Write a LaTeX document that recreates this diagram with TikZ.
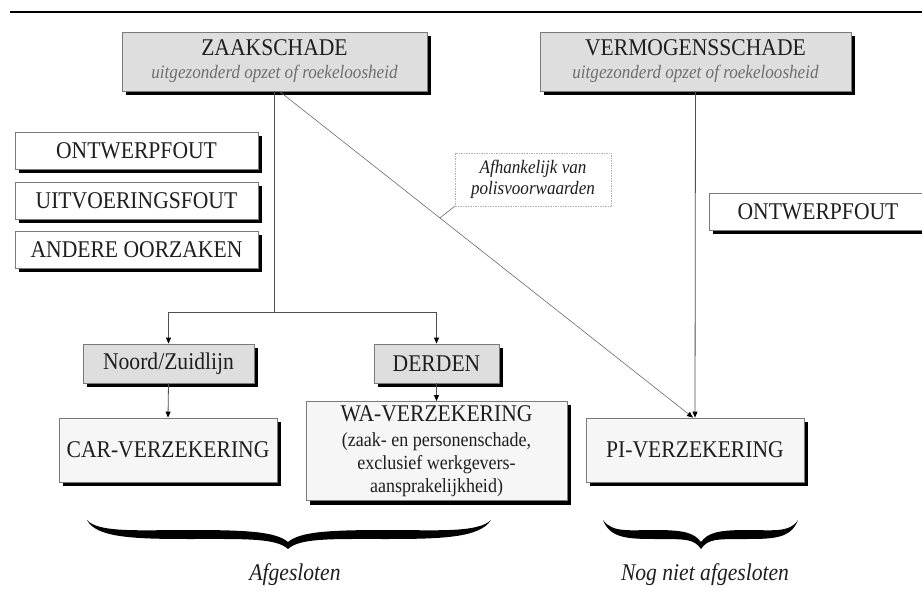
\documentclass[tikz,border=0pt]{standalone}
\usepackage{fontspec}
\setmainfont{Liberation Serif}[FakeStretch=0.9]
\usetikzlibrary{arrows.meta,calc}
\definecolor{boxfill}{HTML}{DEDEDE}
\definecolor{lightfill}{HTML}{F6F6F6}
\definecolor{edgec}{HTML}{7A7A7A}
\definecolor{txt}{HTML}{1E1E1E}
\definecolor{subtxt}{HTML}{6E6E6E}
\definecolor{linec}{HTML}{505050}
\definecolor{diagc}{HTML}{6A6A6A}
\begin{document}
\begin{tikzpicture}[x=1pt,y=-1pt,
  box/.style={draw=edgec, line width=0.8pt, inner sep=0pt, align=center, text=txt,
    font=\fontsize{24}{26}\selectfont},
  darkbox/.style={box, fill=boxfill},
  lightbox/.style={box, fill=lightfill},
  plainbox/.style={box, fill=white},
  shadowfill/.style={fill=black},
  conn/.style={draw=linec, line width=0.8pt},
  arr/.style={conn, -{Triangle[length=6pt,width=5pt,color=black]}},
  diag/.style={draw=diagc, line width=0.6pt},
  notebox/.style={draw=gray!60, line width=0.5pt, dash pattern=on 1.5pt off 1pt, fill=white,
    inner sep=0pt, align=center, text=txt, font=\fontsize{19}{21}\selectfont\itshape},
  lab/.style={inner sep=0pt, text=txt, font=\fontsize{24}{26}\selectfont\itshape, anchor=base}
]
\useasboundingbox (0,0) rectangle (922,599);

% top rule
\draw[line width=2pt, black] (10,12) -- (922,12);

% top boxes
\node[darkbox, minimum width=305pt, minimum height=59pt] (zaak) at (274.5,61.5)
  {ZAAKSCHADE\\[-3pt]{\color{subtxt}\fontsize{19}{20}\selectfont\itshape uitgezonderd opzet of roekeloosheid}};
\node[darkbox, minimum width=311pt, minimum height=59pt] (verm) at (695.5,61.5)
  {VERMOGENSSCHADE\\[-3pt]{\color{subtxt}\fontsize{19}{20}\selectfont\itshape uitgezonderd opzet of roekeloosheid}};

% left cause boxes
\node[plainbox, minimum width=243pt, minimum height=37pt] (ont1) at (136.5,150.5) {ONTWERPFOUT};
\node[plainbox, minimum width=243pt, minimum height=37pt] (uitv) at (136.5,200.5) {UITVOERINGSFOUT};
\node[plainbox, minimum width=243pt, minimum height=37pt] (andr) at (136.5,249.5) {ANDERE OORZAKEN};

% right cause box
\node[plainbox, minimum width=218pt, minimum height=37pt] (ont2) at (818,211.5) {ONTWERPFOUT};

% second level
\node[darkbox, minimum width=171pt, minimum height=39pt] (noord) at (168.5,363.5) {Noord/Zuidlijn};
\node[darkbox, minimum width=125pt, minimum height=39pt] (derden) at (436.5,363.5) {DERDEN};

% insurance boxes
\node[lightbox, minimum width=218pt, minimum height=64pt] (car) at (168,450) {CAR-VERZEKERING};
\node[lightbox, minimum width=261pt, minimum height=99pt] (wa) at (436.5,451)
  {{\fontsize{24}{26}\selectfont WA-VERZEKERING}\\[-1pt]{\fontsize{20}{20.5}\selectfont (zaak- en personenschade,}\\[-3pt]{\fontsize{20}{20.5}\selectfont exclusief werkgevers-}\\[-3pt]{\fontsize{20}{20.5}\selectfont aansprakelijkheid)}};
\node[lightbox, minimum width=218pt, minimum height=64pt] (pi) at (695,450) {PI-VERZEKERING};

% shadows (right and bottom strips)
\foreach \n in {zaak,verm,ont1,uitv,andr,ont2,noord,derden,car,wa,pi}{
  \fill[shadowfill] ($(\n.north east)+(0.4,4)$) rectangle ($(\n.south east)+(4,4)$);
  \fill[shadowfill] ($(\n.south west)+(4,0.4)$) rectangle ($(\n.south east)+(4,4)$);
}

% connectors
\coordinate (split) at (274.5,312);
\draw[conn] (zaak.south) -- (split);
\draw[arr] (split) -| (noord.north);
\draw[arr] (split) -| (derden.north);
\draw[arr] (noord.south) -- (car.north);
\draw[arr] (derden.south) -- (wa.north);
\draw[arr] (verm.south) -- (pi.north);

\coordinate (dstart) at ([xshift=5pt]zaak.south);
\coordinate (dend) at ([xshift=-2pt]pi.north);
\draw[diag, -{Triangle[length=6pt,width=5pt,color=black]}] (dstart) -- (dend);
\coordinate (dg) at ($(dstart)!0.388!(dend)$);

% note box
\node[notebox, minimum width=156pt, minimum height=53pt] (afh) at (533,179.5)
  {Afhankelijk van\\ polisvoorwaarden};
\draw[diag] (afh.south west) -- (dg);

% braces
\fill[black] (87,520) .. controls (98,533) and (140,530) .. (190,530)
  .. controls (250,530) and (276,532) .. (288,542)
  .. controls (300,532) and (326,530) .. (386,530)
  .. controls (436,530) and (478,533) .. (491,520)
  .. controls (480,538) and (440,539) .. (386,539)
  .. controls (330,539) and (300,538) .. (288,549)
  .. controls (276,538) and (246,539) .. (190,539)
  .. controls (136,539) and (96,538) .. (87,520) -- cycle;
\fill[black] (603,520) .. controls (612,533) and (630,530) .. (655,530)
  .. controls (685,530) and (694,533) .. (701,542)
  .. controls (708,533) and (717,530) .. (747,530)
  .. controls (772,530) and (790,533) .. (798,520)
  .. controls (791,538) and (775,539) .. (747,539)
  .. controls (715,539) and (708,539) .. (701,549)
  .. controls (694,539) and (687,539) .. (655,539)
  .. controls (627,539) and (610,538) .. (603,520) -- cycle;

% labels
\node[lab] (afg) at (295,580) {Afgesloten};
\node[lab] (nog) at (705,580) {Nog niet afgesloten};
\end{tikzpicture}
\end{document}
